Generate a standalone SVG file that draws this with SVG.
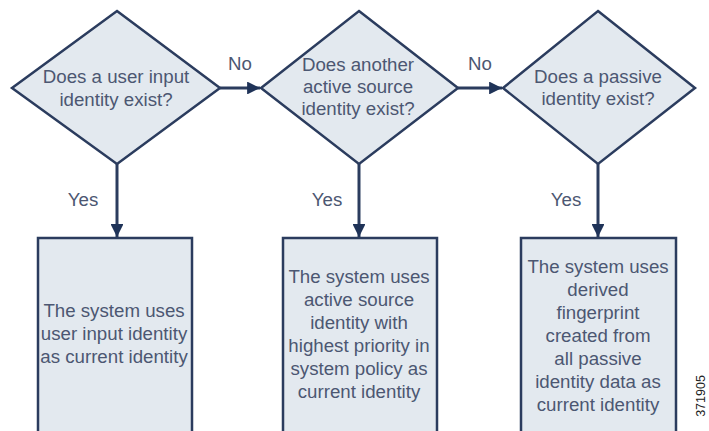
<svg xmlns="http://www.w3.org/2000/svg" width="709" height="431" viewBox="0 0 709 431">
<defs>
<style>
.shape{fill:#e3e9ef;stroke:#2b3c5e;stroke-width:2.5}
.conn{stroke:#2b3c5e;stroke-width:3;fill:none}
.t{font-family:"Liberation Sans",Arial,sans-serif;font-size:18.7px;fill:#4c5772;text-anchor:middle}
.id{font-family:"Liberation Sans",Arial,sans-serif;font-size:12.5px;fill:#222;text-anchor:middle}
</style>
<marker id="ah" viewBox="0 0 10 10" refX="10" refY="5" markerWidth="5" markerHeight="4.3" orient="auto" markerUnits="strokeWidth">
<path d="M0,0 L10,5 L0,10 Z" fill="#1f3358"/>
</marker>
</defs>
<rect width="709" height="431" fill="#ffffff"/>
<g id="connectors">
<line class="conn" x1="220" y1="88" x2="260" y2="88" marker-end="url(#ah)"/>
<line class="conn" x1="458" y1="88" x2="502" y2="88" marker-end="url(#ah)"/>
<line class="conn" x1="117" y1="164" x2="117" y2="237" marker-end="url(#ah)"/>
<line class="conn" x1="359" y1="164" x2="359" y2="237" marker-end="url(#ah)"/>
<line class="conn" x1="598" y1="164" x2="598" y2="237" marker-end="url(#ah)"/>
<text class="t" x="240" y="70">No</text>
<text class="t" x="480" y="70">No</text>
<text class="t" x="83" y="206">Yes</text>
<text class="t" x="327" y="206">Yes</text>
<text class="t" x="566" y="206">Yes</text>
</g>
<g id="d1">
<polygon class="shape" points="117,11 220,88 117,164 12,88"/>
<text class="t" x="116" y="83">Does a user input</text>
<text class="t" x="116" y="106">identity exist?</text>
</g>
<g id="d2">
<polygon class="shape" points="359,11 458,88 359,164 261,88"/>
<text class="t" x="358" y="71">Does another</text>
<text class="t" x="358" y="93">active source</text>
<text class="t" x="358" y="115">identity exist?</text>
</g>
<g id="d3">
<polygon class="shape" points="598,11 695,88 598,164 503,88"/>
<text class="t" x="598" y="83">Does a passive</text>
<text class="t" x="598" y="105">identity exist?</text>
</g>
<g id="b1">
<rect class="shape" x="38" y="238" width="154" height="205"/>
<text class="t" x="114" y="317">The system uses</text>
<text class="t" x="114" y="340">user input identity</text>
<text class="t" x="114" y="363">as current identity</text>
</g>
<g id="b2">
<rect class="shape" x="283" y="238" width="154" height="205"/>
<text class="t" x="359" y="283">The system uses</text>
<text class="t" x="359" y="306">active source</text>
<text class="t" x="359" y="329">identity with</text>
<text class="t" x="359" y="352">highest priority in</text>
<text class="t" x="359" y="375">system policy as</text>
<text class="t" x="359" y="398">current identity</text>
</g>
<g id="b3">
<rect class="shape" x="521" y="238" width="155" height="205"/>
<text class="t" x="598" y="273">The system uses</text>
<text class="t" x="598" y="296">derived</text>
<text class="t" x="598" y="319">fingerprint</text>
<text class="t" x="598" y="342">created from</text>
<text class="t" x="598" y="365">all passive</text>
<text class="t" x="598" y="388">identity data as</text>
<text class="t" x="598" y="411">current identity</text>
</g>
<text class="id" transform="translate(705,396) rotate(-90)">371905</text>
</svg>
